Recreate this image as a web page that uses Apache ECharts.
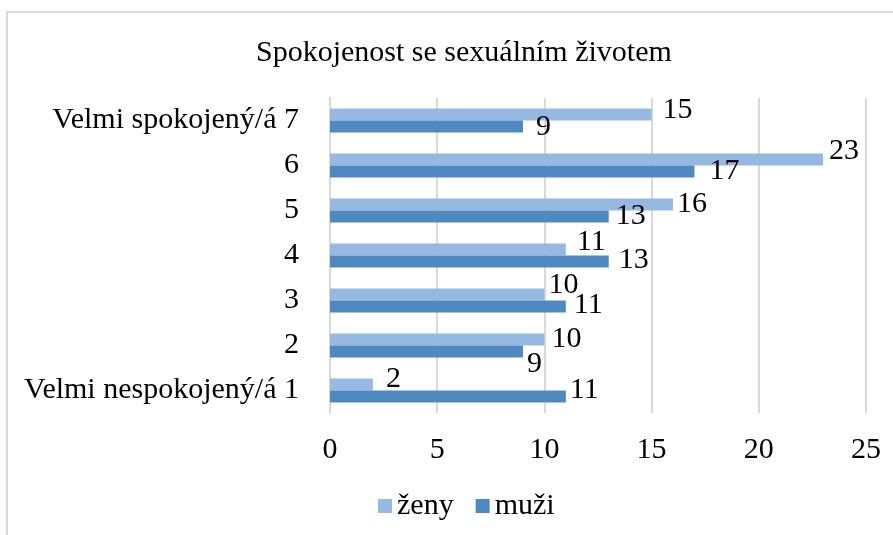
<!DOCTYPE html>
<html>
<head>
<meta charset="utf-8">
<script src="https://cdn.jsdelivr.net/npm/echarts@6/dist/echarts.min.js"></script>
<style>
  html, body { margin: 0; padding: 0; background: #fff; }
  #chart { width: 893px; height: 535px; }
</style>
</head>
<body>
<div id="chart"></div>
<script>
// kategorie odspodu nahoru
var categories = ['Velmi nespokojený/á 1', '2', '3', '4', '5', '6', 'Velmi spokojený/á 7'];
var zeny = [2, 10, 10, 11, 16, 23, 15];
var muzi = [11, 9, 11, 13, 13, 17, 9];
var xTicks = [0, 5, 10, 15, 20, 25];

var FONT = '"Liberation Serif", "Times New Roman", serif';

// posuny popisku (Excel je odsouva, aby se neprekryvaly) [dx, dy]
var shiftZeny = [[9, -5], [3, 0], [0, -9], [7, -7], [0, 0], [2, -8], [7, -4]];
var shiftMuzi = [[0, -6], [0, 13], [4, -1], [6, -1], [3, 0], [11, 0], [9, 1]];

function withLabels(values, shifts) {
  return values.map(function (v, i) {
    return { value: v, label: { offset: shifts[i] } };
  });
}

var chart = echarts.init(document.getElementById('chart'));
chart.setOption({
  animation: false,
  graphic: [{
    type: 'rect',
    shape: { x: 7, y: 12, width: 900, height: 600 },
    style: { fill: 'none', stroke: '#d9d9d9', lineWidth: 2 }
  }],
  title: {
    text: 'Spokojenost se sexuálním životem',
    left: 251,
    top: 33,
    textStyle: { fontFamily: FONT, fontSize: 30, fontWeight: 'normal', color: '#000', lineHeight: 30 }
  },
  legend: {
    data: ['ženy', 'muži'],
    left: 373,
    top: 486,
    icon: 'rect',
    itemWidth: 14,
    itemHeight: 14,
    itemGap: 22,
    textStyle: { fontFamily: FONT, fontSize: 30, color: '#000' }
  },
  grid: { left: 330, right: 27, top: 98, bottom: 122, containLabel: false },
  xAxis: {
    type: 'value',
    min: 0,
    max: 25,
    interval: 5,
    axisLine: { show: false },
    axisTick: { show: false },
    splitLine: { lineStyle: { color: '#d9d9d9', width: 2 } },
    axisLabel: {
      margin: 22,
      fontFamily: FONT, fontSize: 30, color: '#000',
      formatter: function (v) { return xTicks.indexOf(v) >= 0 ? String(v) : ''; }
    }
  },
  yAxis: {
    type: 'category',
    data: categories,
    axisLine: { lineStyle: { color: '#d9d9d9', width: 2 } },
    axisTick: { show: false },
    axisLabel: { margin: 31, fontFamily: FONT, fontSize: 30, color: '#000' }
  },
  series: [
    {
      name: 'ženy',
      type: 'bar',
      data: withLabels(zeny, shiftZeny),
      barWidth: 12,
      barGap: '0%',
      itemStyle: { color: '#96b9e1' },
      label: { show: true, position: 'right', distance: 4, fontFamily: FONT, fontSize: 30, color: '#000' }
    },
    {
      name: 'muži',
      type: 'bar',
      data: withLabels(muzi, shiftMuzi),
      barWidth: 12,
      barGap: '0%',
      itemStyle: { color: '#4f89c1' },
      label: { show: true, position: 'right', distance: 4, fontFamily: FONT, fontSize: 30, color: '#000' }
    }
  ]
});
</script>
</body>
</html>
